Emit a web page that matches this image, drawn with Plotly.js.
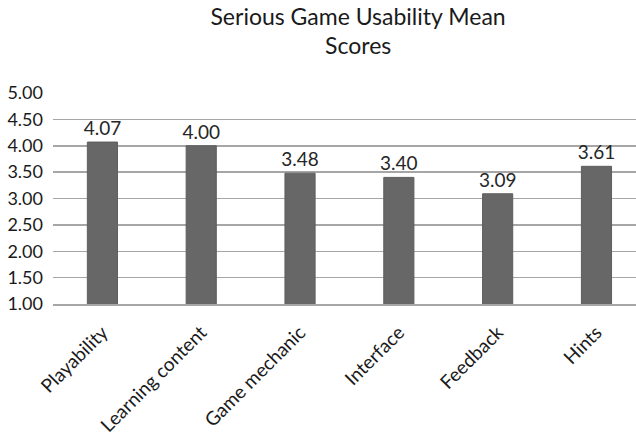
<!DOCTYPE html>
<html><head><meta charset="utf-8">
<script src="https://cdn.plot.ly/plotly-3.0.1.min.js"></script>
<style>html,body{margin:0;padding:0;background:#fff}#chart{width:636px;height:443px}</style>
</head><body><div id="chart"></div>
<script>
const categories = ["Playability", "Learning content", "Game mechanic", "Interface", "Feedback", "Hints"];
const meanScores = [4.07, 4.00, 3.48, 3.40, 3.09, 3.61];
const yTickValues = [1.0, 1.5, 2.0, 2.5, 3.0, 3.5, 4.0, 4.5, 5.0];
const titleLine1 = "Serious Game Usability Mean";
const titleLine2 = "Scores";

const FONT = "Lato, 'Open Sans', sans-serif";
const trace = {
  type: "bar",
  x: categories,
  y: meanScores,
  width: 0.305,
  marker: {color: "#676767", line: {color: "#5e5e5e", width: 1}},
  text: meanScores.map(v => v.toFixed(2)),
  textposition: "outside",
  constraintext: "none",
  textfont: {family: FONT, size: 19, color: "#262626"},
  cliponaxis: false,
  hoverinfo: "none"
};
const layout = {
  width: 636, height: 443,
  margin: {l: 53, r: 0, t: 93, b: 139, pad: 0},
  paper_bgcolor: "#ffffff", plot_bgcolor: "#ffffff",
  showlegend: false,
  bargap: 0.2,
  title: {text: titleLine1, font: {family: FONT, size: 23, color: "#1a1a1a"},
          x: 0.563, xref: "container", xanchor: "center", y: 0.962, yref: "container", yanchor: "middle"},
  annotations: [{text: titleLine2, showarrow: false, xref: "paper", yref: "paper",
                 x: 0.523, y: 1.228, xanchor: "center", yanchor: "middle",
                 font: {family: FONT, size: 23, color: "#1a1a1a"}}],
  xaxis: {type: "category", range: [-0.5, 5.4], showgrid: false, zeroline: false,
          showline: true, linecolor: "#a6a6a6", linewidth: 2,
          tickangle: -45, ticks: "outside", ticklen: 8, tickcolor: "rgba(0,0,0,0)",
          tickfont: {family: FONT, size: 19, color: "#1a1a1a"}, automargin: false},
  yaxis: {range: [1, 5], tickvals: yTickValues, ticktext: yTickValues.map(v => v.toFixed(2)),
          showgrid: true, gridcolor: "#a6a6a6", gridwidth: 1.5, zeroline: false,
          showline: false, ticks: "", ticklabelstandoff: 9,
          tickfont: {family: FONT, size: 18, color: "#1a1a1a"}, automargin: false}
};
Plotly.newPlot("chart", [trace], layout, {displayModeBar: false, staticPlot: true});
</script></body></html>
